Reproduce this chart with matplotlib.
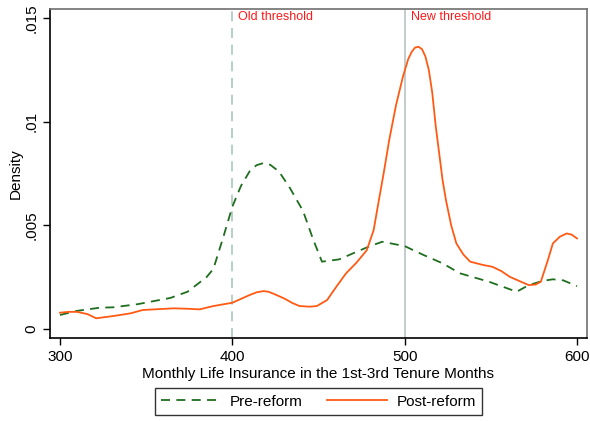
import matplotlib
matplotlib.use("Agg")
import matplotlib.pyplot as plt

plt.rcParams["font.family"] = ["Liberation Sans", "DejaVu Sans"]

# Pre-reform density
pre_x = [300, 310, 323, 331, 345, 364, 374, 385, 389, 395, 400, 405, 410,
         414, 418, 422, 427, 433, 441, 447, 452, 462, 470, 479, 487, 500,
         511, 522, 532, 549, 565, 572, 580, 586, 592, 600]
pre_y = [0.00068, 0.00088, 0.00103, 0.00105, 0.00120, 0.00150, 0.00180,
         0.00250, 0.00290, 0.00450, 0.00590, 0.00690, 0.00760, 0.00790,
         0.00800, 0.00792, 0.00760, 0.00686, 0.00570, 0.00430, 0.00325,
         0.00336, 0.00365, 0.00397, 0.00421, 0.00400, 0.00357, 0.00317,
         0.00269, 0.00228, 0.00180, 0.00212, 0.00232, 0.00240, 0.00235,
         0.00207]

# Post-reform density
post_x = [300, 305, 310, 316, 321, 331, 341, 348, 357, 366, 374, 381, 389,
          400, 410, 414, 418, 421, 424, 430, 435, 439, 445, 449, 455, 460,
          466, 472, 478, 482, 485, 488, 491, 495, 499, 502, 504, 506, 508,
          510, 512, 514, 516, 518, 522, 524, 527, 530, 534, 538, 545, 551,
          556, 561, 567, 572, 576, 579, 583, 586, 590, 594, 597, 600]
post_y = [0.00079, 0.00083, 0.00083, 0.00072, 0.00052, 0.00063, 0.00076,
          0.00092, 0.00096, 0.00100, 0.00098, 0.00095, 0.00111, 0.00127,
          0.00164, 0.00177, 0.00183, 0.00180, 0.00170, 0.00148, 0.00125,
          0.00111, 0.00108, 0.00111, 0.00140, 0.00200, 0.00269, 0.00320,
          0.00380, 0.00477, 0.00620, 0.00760, 0.00910, 0.01080, 0.01217,
          0.01300, 0.01335, 0.01357, 0.01361, 0.01350, 0.01315, 0.01250,
          0.01140, 0.00980, 0.00718, 0.00620, 0.00500, 0.00413, 0.00360,
          0.00325, 0.00310, 0.00300, 0.00280, 0.00252, 0.00230, 0.00212,
          0.00215, 0.00228, 0.00330, 0.00413, 0.00445, 0.00461, 0.00455,
          0.00437]

thresholds = [400, 500]
threshold_labels = ["Old threshold", "New threshold"]

GREEN = "#1f6e1f"
ORANGE = "#ff5a14"

fig = plt.figure(figsize=(5.9, 4.21), dpi=100)
ax = fig.add_axes([50 / 590, 1 - 338 / 421, 537 / 590, 329 / 421])

ax.axvline(thresholds[0], color="#a9c7bd", linestyle=(0, (6, 4)), linewidth=1.2, zorder=1)
ax.axvline(thresholds[1], color="#b9c4c4", linestyle="-", linewidth=1.2, zorder=1)
for t, lab in zip(thresholds, threshold_labels):
    ax.text(t + 3.5, 0.01505, lab, color="#ff1a1a", fontsize=9,
            ha="left", va="center")

ax.plot(pre_x, pre_y, color=GREEN, linestyle=(0, (5, 3.5)), linewidth=1.3,
        label="Pre-reform", zorder=3)
ax.plot(post_x, post_y, color=ORANGE, linestyle="-", linewidth=1.3,
        label="Post-reform", zorder=3)

ax.set_xlim(294.2, 605.8)
ax.set_ylim(-0.00043, 0.01543)
ax.set_xticks([300, 400, 500, 600])
ax.set_yticks([0, 0.005, 0.01, 0.015])
ax.set_yticklabels(["0", ".005", ".01", ".015"], rotation=90, va="center")
ax.tick_params(axis="both", labelsize=11, length=5, width=1, color="black")

for side in ["left", "bottom"]:
    ax.spines[side].set_color("black")
    ax.spines[side].set_linewidth(1.2)
for side in ["top", "right"]:
    ax.spines[side].set_color("#707070")
    ax.spines[side].set_linewidth(1.2)

ax.set_xlabel("Monthly Life Insurance in the 1st-3rd Tenure Months", fontsize=11, labelpad=2)
ax.set_ylabel("Density", fontsize=11, labelpad=1)

leg = ax.legend(loc="upper center", bbox_to_anchor=(0.5, -0.13), ncol=2,
                frameon=True, fancybox=False, fontsize=11, handlelength=3.9,
                handletextpad=0.65, columnspacing=1.6, borderpad=0.4,
                edgecolor="black")
leg.get_frame().set_linewidth(1.0)

fig.savefig("out.png", dpi=100)
